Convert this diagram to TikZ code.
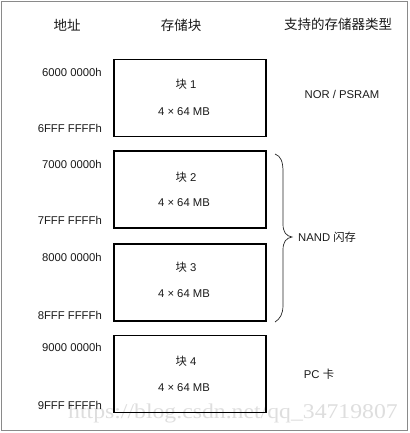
\documentclass[tikz,border=0pt]{standalone}
\usepackage{fontspec}
\setmainfont{Liberation Sans}
\newfontfamily\cjk{Noto Sans CJK SC}
\newfontfamily\wmfont{Liberation Serif}
\definecolor{txt}{HTML}{1A1A1A}
\definecolor{framegray}{HTML}{8A8A8A}
\definecolor{wmgray}{HTML}{DEDEDE}
\begin{document}
\begin{tikzpicture}[x=1pt,y=-1pt,
  header/.style={font=\cjk\fontsize{13.5}{15}\selectfont,text=txt,inner sep=0pt},
  addr/.style={font=\fontsize{11.3}{13}\selectfont,text=txt,inner sep=0pt,anchor=east},
  blk/.style={draw=black,line width=1.4pt,minimum width=152pt,minimum height=77pt,inner sep=0pt},
  intext/.style={font=\fontsize{11.3}{13}\selectfont,text=txt,inner sep=0pt},
  typetext/.style={font=\fontsize{11.3}{13}\selectfont,text=txt,inner sep=0pt}]
\useasboundingbox (0,0) rectangle (409,433);
\fill[white] (0,0) rectangle (409,433);
\draw[framegray,line width=0.9pt] (1.5,1.5) rectangle (407,430.5);
% watermark
\node[font=\wmfont\fontsize{21}{22}\selectfont,text=wmgray,inner sep=0pt,anchor=base west] (wm) at (68,418) {\scalebox{1.13}[1]{https://blog.csdn.net/qq\_34719807}};
% headers
\node[header] (h1) at (67,25) {地址};
\node[header] (h2) at (181,25) {存储块};
\node[header] (h3) at (338,24) {支持的存储器类型};
% blocks
\node[blk] (b1) at (190,98) {};
\node[blk] (b2) at (190,189.5) {};
\node[blk] (b3) at (190,282.5) {};
\node[blk] (b4) at (190,374) {};
% block texts
\node[intext] (t1) at (186,84) {{\cjk 块} 1};
\node[intext] (m1) at (184,112) {4 × 64 MB};
\node[intext] (t2) at (186,177) {{\cjk 块} 2};
\node[intext] (m2) at (184,203) {4 × 64 MB};
\node[intext] (t3) at (186,267) {{\cjk 块} 3};
\node[intext] (m3) at (184,294) {4 × 64 MB};
\node[intext] (t4) at (186,361) {{\cjk 块} 4};
\node[intext] (m4) at (184,388) {4 × 64 MB};
% addresses
\node[addr] (a1) at (102,72) {6000 0000h};
\node[addr] (a2) at (102,128) {6FFF FFFFh};
\node[addr] (a3) at (102,164) {7000 0000h};
\node[addr] (a4) at (102,220) {7FFF FFFFh};
\node[addr] (a5) at (102,257) {8000 0000h};
\node[addr] (a6) at (102,315) {8FFF FFFFh};
\node[addr] (a7) at (102,347) {9000 0000h};
\node[addr] (a8) at (102,405) {9FFF FFFFh};
% types
\node[typetext] (nor) at (342,94) {NOR / PSRAM};
\node[typetext,anchor=west] (nand) at (298,237) {NAND {\cjk 闪存}};
\node[typetext] (pc) at (319,374) {PC {\cjk 卡}};
% brace
\coordinate (bt) at (275,154);
\coordinate (bm) at (292,237);
\coordinate (bb) at (275,322);
\draw[black!85,line width=0.7pt] (bt) .. controls (281,156) and (283,162) .. (283,172)
  -- (283,224) .. controls (283,232) and (286,236) .. (bm)
  .. controls (286,238) and (283,242) .. (283,250)
  -- (283,305) .. controls (283,314) and (280,319) .. (bb);
\end{tikzpicture}
\end{document}
